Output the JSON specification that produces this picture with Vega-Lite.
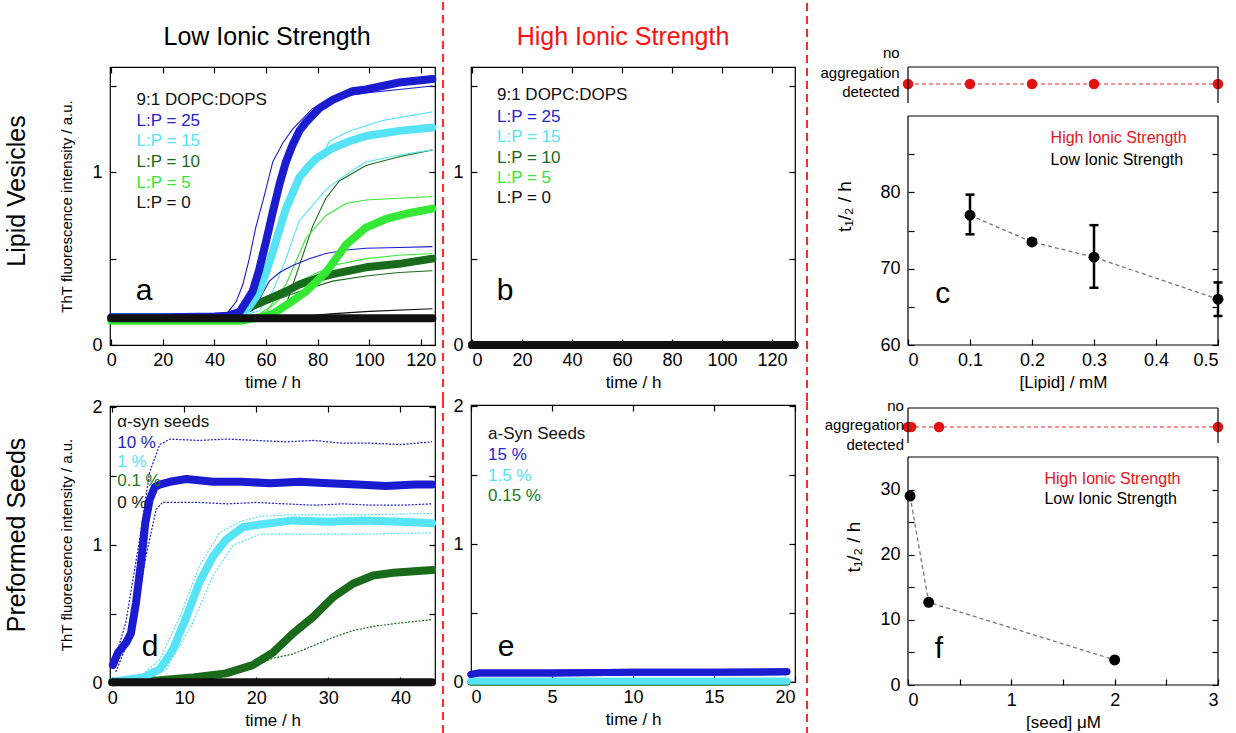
{
"$schema":"https://vega.github.io/schema/vega-lite/v6.json",
"padding":{"left":4,"top":0,"right":0,"bottom":0},
"spacing":-6,
"resolve":{"scale":{"color":"independent"}},
"config":{
 "font":"Liberation Sans",
 "view":{"stroke":"black","strokeWidth":1.2},
 "axis":{"domain":false,"grid":false,"minExtent":0,"tickColor":"black","tickSize":-6,"tickWidth":1.2,"labelFontSize":18,"labelColor":"black","labelFont":"Liberation Sans","titleFont":"Liberation Sans","titleFontWeight":"normal","titleColor":"black","titleFontSize":17,"labelPadding":14},
 "axisX":{"labelPadding":12,"titlePadding":5},
 "axisY":{"titlePadding":17},
 "axisTop":{"labelPadding":0,"minExtent":0},
 "axisRight":{"labelPadding":0,"minExtent":0},
 "text":{"font":"Liberation Sans"}
},
"datasets":{
 "lipidLow":[
  {"t":0,"v":0.15,"s":"10","k":"r1"},{"t":55,"v":0.155,"s":"10","k":"r1"},{"t":62.6,"v":0.18,"s":"10","k":"r1"},{"t":67.7,"v":0.23,"s":"10","k":"r1"},{"t":72.9,"v":0.46,"s":"10","k":"r1"},{"t":78.1,"v":0.69,"s":"10","k":"r1"},{"t":83.2,"v":0.85,"s":"10","k":"r1"},{"t":88.4,"v":0.95,"s":"10","k":"r1"},{"t":98.7,"v":1.04,"s":"10","k":"r1"},{"t":111.6,"v":1.09,"s":"10","k":"r1"},{"t":124.5,"v":1.13,"s":"10","k":"r1"},
  {"t":0,"v":0.15,"s":"10","k":"r2"},{"t":45,"v":0.155,"s":"10","k":"r2"},{"t":54,"v":0.2,"s":"10","k":"r2"},{"t":60,"v":0.24,"s":"10","k":"r2"},{"t":72.9,"v":0.31,"s":"10","k":"r2"},{"t":85.8,"v":0.37,"s":"10","k":"r2"},{"t":98.7,"v":0.4,"s":"10","k":"r2"},{"t":111.6,"v":0.42,"s":"10","k":"r2"},{"t":124.5,"v":0.43,"s":"10","k":"r2"},
  {"t":0,"v":0.14,"s":"5","k":"r1"},{"t":55,"v":0.15,"s":"5","k":"r1"},{"t":60,"v":0.19,"s":"5","k":"r1"},{"t":67.7,"v":0.35,"s":"5","k":"r1"},{"t":75.5,"v":0.62,"s":"5","k":"r1"},{"t":83.2,"v":0.75,"s":"5","k":"r1"},{"t":91,"v":0.82,"s":"5","k":"r1"},{"t":98.7,"v":0.84,"s":"5","k":"r1"},{"t":111.6,"v":0.85,"s":"5","k":"r1"},{"t":124.5,"v":0.86,"s":"5","k":"r1"},
  {"t":0,"v":0.14,"s":"5","k":"r2"},{"t":50,"v":0.15,"s":"5","k":"r2"},{"t":57.4,"v":0.18,"s":"5","k":"r2"},{"t":62.6,"v":0.23,"s":"5","k":"r2"},{"t":72.9,"v":0.37,"s":"5","k":"r2"},{"t":85.8,"v":0.46,"s":"5","k":"r2"},{"t":98.7,"v":0.5,"s":"5","k":"r2"},{"t":111.6,"v":0.52,"s":"5","k":"r2"},{"t":124.5,"v":0.53,"s":"5","k":"r2"},
  {"t":0,"v":0.16,"s":"15","k":"r1"},{"t":48,"v":0.17,"s":"15","k":"r1"},{"t":54.8,"v":0.24,"s":"15","k":"r1"},{"t":57.4,"v":0.3,"s":"15","k":"r1"},{"t":62.6,"v":0.5,"s":"15","k":"r1"},{"t":67.7,"v":0.77,"s":"15","k":"r1"},{"t":72.9,"v":0.95,"s":"15","k":"r1"},{"t":79.4,"v":1.06,"s":"15","k":"r1"},{"t":82,"v":1.1,"s":"15","k":"r1"},{"t":84.5,"v":1.18,"s":"15","k":"r1"},{"t":92.3,"v":1.24,"s":"15","k":"r1"},{"t":105.2,"v":1.3,"s":"15","k":"r1"},{"t":124.5,"v":1.35,"s":"15","k":"r1"},
  {"t":0,"v":0.155,"s":"15","k":"r2"},{"t":50,"v":0.16,"s":"15","k":"r2"},{"t":57.4,"v":0.2,"s":"15","k":"r2"},{"t":62.6,"v":0.31,"s":"15","k":"r2"},{"t":67.7,"v":0.5,"s":"15","k":"r2"},{"t":72.9,"v":0.72,"s":"15","k":"r2"},{"t":78.1,"v":0.81,"s":"15","k":"r2"},{"t":83.2,"v":0.9,"s":"15","k":"r2"},{"t":85.8,"v":0.93,"s":"15","k":"r2"},{"t":92.3,"v":1.0,"s":"15","k":"r2"},{"t":98.7,"v":1.06,"s":"15","k":"r2"},{"t":111.6,"v":1.1,"s":"15","k":"r2"},{"t":124.5,"v":1.13,"s":"15","k":"r2"},
  {"t":0,"v":0.165,"s":"25","k":"r1"},{"t":40,"v":0.17,"s":"25","k":"r1"},{"t":45.2,"v":0.19,"s":"25","k":"r1"},{"t":48.4,"v":0.25,"s":"25","k":"r1"},{"t":51,"v":0.35,"s":"25","k":"r1"},{"t":53.5,"v":0.5,"s":"25","k":"r1"},{"t":56,"v":0.68,"s":"25","k":"r1"},{"t":59.4,"v":0.87,"s":"25","k":"r1"},{"t":62.6,"v":1.06,"s":"25","k":"r1"},{"t":66.5,"v":1.17,"s":"25","k":"r1"},{"t":70.3,"v":1.25,"s":"25","k":"r1"},{"t":78.1,"v":1.37,"s":"25","k":"r1"},{"t":85.8,"v":1.43,"s":"25","k":"r1"},{"t":98.7,"v":1.46,"s":"25","k":"r1"},{"t":111.6,"v":1.48,"s":"25","k":"r1"},{"t":124.5,"v":1.5,"s":"25","k":"r1"},
  {"t":0,"v":0.165,"s":"25","k":"r2"},{"t":48,"v":0.17,"s":"25","k":"r2"},{"t":54.8,"v":0.2,"s":"25","k":"r2"},{"t":58.7,"v":0.3,"s":"25","k":"r2"},{"t":61.3,"v":0.37,"s":"25","k":"r2"},{"t":65.2,"v":0.42,"s":"25","k":"r2"},{"t":70.3,"v":0.46,"s":"25","k":"r2"},{"t":76.8,"v":0.5,"s":"25","k":"r2"},{"t":83.2,"v":0.53,"s":"25","k":"r2"},{"t":91,"v":0.55,"s":"25","k":"r2"},{"t":98.7,"v":0.56,"s":"25","k":"r2"},{"t":111.6,"v":0.565,"s":"25","k":"r2"},{"t":124.5,"v":0.57,"s":"25","k":"r2"},
  {"t":0,"v":0.155,"s":"0","k":"r1"},{"t":70,"v":0.16,"s":"0","k":"r1"},{"t":85,"v":0.18,"s":"0","k":"r1"},{"t":100,"v":0.195,"s":"0","k":"r1"},{"t":124.5,"v":0.21,"s":"0","k":"r1"},
  {"t":0,"v":0.15,"s":"10","k":"m"},{"t":40,"v":0.155,"s":"10","k":"m"},{"t":47,"v":0.17,"s":"10","k":"m"},{"t":52.3,"v":0.21,"s":"10","k":"m"},{"t":60,"v":0.26,"s":"10","k":"m"},{"t":67.7,"v":0.31,"s":"10","k":"m"},{"t":72.9,"v":0.35,"s":"10","k":"m"},{"t":80.6,"v":0.39,"s":"10","k":"m"},{"t":85.8,"v":0.41,"s":"10","k":"m"},{"t":98.7,"v":0.45,"s":"10","k":"m"},{"t":111.6,"v":0.47,"s":"10","k":"m"},{"t":124.5,"v":0.5,"s":"10","k":"m"},
  {"t":0,"v":0.14,"s":"5","k":"m"},{"t":50,"v":0.14,"s":"5","k":"m"},{"t":57.4,"v":0.16,"s":"5","k":"m"},{"t":62.6,"v":0.18,"s":"5","k":"m"},{"t":67.7,"v":0.23,"s":"5","k":"m"},{"t":75.5,"v":0.31,"s":"5","k":"m"},{"t":83.2,"v":0.42,"s":"5","k":"m"},{"t":91,"v":0.58,"s":"5","k":"m"},{"t":98.7,"v":0.68,"s":"5","k":"m"},{"t":106.5,"v":0.73,"s":"5","k":"m"},{"t":114.2,"v":0.76,"s":"5","k":"m"},{"t":124.5,"v":0.79,"s":"5","k":"m"},
  {"t":0,"v":0.16,"s":"15","k":"m"},{"t":45,"v":0.16,"s":"15","k":"m"},{"t":52.3,"v":0.2,"s":"15","k":"m"},{"t":54.8,"v":0.25,"s":"15","k":"m"},{"t":57.4,"v":0.31,"s":"15","k":"m"},{"t":60,"v":0.42,"s":"15","k":"m"},{"t":62.6,"v":0.54,"s":"15","k":"m"},{"t":65.2,"v":0.67,"s":"15","k":"m"},{"t":67.7,"v":0.79,"s":"15","k":"m"},{"t":70.3,"v":0.88,"s":"15","k":"m"},{"t":72.9,"v":0.97,"s":"15","k":"m"},{"t":76.8,"v":1.04,"s":"15","k":"m"},{"t":79.4,"v":1.08,"s":"15","k":"m"},{"t":85.8,"v":1.14,"s":"15","k":"m"},{"t":92.3,"v":1.18,"s":"15","k":"m"},{"t":98.7,"v":1.21,"s":"15","k":"m"},{"t":111.6,"v":1.24,"s":"15","k":"m"},{"t":124.5,"v":1.26,"s":"15","k":"m"},
  {"t":0,"v":0.16,"s":"25","k":"m"},{"t":20,"v":0.16,"s":"25","k":"m"},{"t":40,"v":0.165,"s":"25","k":"m"},{"t":45.2,"v":0.17,"s":"25","k":"m"},{"t":49.7,"v":0.19,"s":"25","k":"m"},{"t":54.8,"v":0.31,"s":"25","k":"m"},{"t":57.4,"v":0.44,"s":"25","k":"m"},{"t":60,"v":0.6,"s":"25","k":"m"},{"t":62.6,"v":0.77,"s":"25","k":"m"},{"t":65.2,"v":0.93,"s":"25","k":"m"},{"t":67.7,"v":1.06,"s":"25","k":"m"},{"t":70.3,"v":1.16,"s":"25","k":"m"},{"t":72.9,"v":1.24,"s":"25","k":"m"},{"t":75.5,"v":1.29,"s":"25","k":"m"},{"t":80.6,"v":1.37,"s":"25","k":"m"},{"t":85.8,"v":1.42,"s":"25","k":"m"},{"t":93.5,"v":1.47,"s":"25","k":"m"},{"t":98.7,"v":1.48,"s":"25","k":"m"},{"t":111.6,"v":1.52,"s":"25","k":"m"},{"t":124.5,"v":1.54,"s":"25","k":"m"},
  {"t":0,"v":0.155,"s":"0","k":"m"},{"t":30,"v":0.155,"s":"0","k":"m"},{"t":60,"v":0.155,"s":"0","k":"m"},{"t":90,"v":0.155,"s":"0","k":"m"},{"t":124.5,"v":0.155,"s":"0","k":"m"}
 ],
 "lipidHigh":[{"t":0,"v":0,"s":"0"},{"t":40,"v":0,"s":"0"},{"t":80,"v":0,"s":"0"},{"t":129,"v":0,"s":"0"}],
 "seedLow":[
  {"t":0,"v":0.005,"s":"0.1","k":"r1"},{"t":11.2,"v":0.04,"s":"0.1","k":"r1"},{"t":15.8,"v":0.07,"s":"0.1","k":"r1"},{"t":19.5,"v":0.12,"s":"0.1","k":"r1"},{"t":22.3,"v":0.18,"s":"0.1","k":"r1"},{"t":25.1,"v":0.21,"s":"0.1","k":"r1"},{"t":27.9,"v":0.27,"s":"0.1","k":"r1"},{"t":30.6,"v":0.33,"s":"0.1","k":"r1"},{"t":33.4,"v":0.38,"s":"0.1","k":"r1"},{"t":36.2,"v":0.41,"s":"0.1","k":"r1"},{"t":39,"v":0.43,"s":"0.1","k":"r1"},{"t":44.4,"v":0.46,"s":"0.1","k":"r1"},
  {"t":0,"v":0.01,"s":"1","k":"r1"},{"t":4,"v":0.05,"s":"1","k":"r1"},{"t":6.6,"v":0.17,"s":"1","k":"r1"},{"t":9.4,"v":0.48,"s":"1","k":"r1"},{"t":12.1,"v":0.85,"s":"1","k":"r1"},{"t":14.9,"v":1.09,"s":"1","k":"r1"},{"t":17.7,"v":1.17,"s":"1","k":"r1"},{"t":20.5,"v":1.21,"s":"1","k":"r1"},{"t":25.1,"v":1.22,"s":"1","k":"r1"},{"t":35,"v":1.22,"s":"1","k":"r1"},{"t":44.4,"v":1.23,"s":"1","k":"r1"},
  {"t":0,"v":0.01,"s":"1","k":"r2"},{"t":5,"v":0.03,"s":"1","k":"r2"},{"t":7.5,"v":0.1,"s":"1","k":"r2"},{"t":11.2,"v":0.44,"s":"1","k":"r2"},{"t":14,"v":0.78,"s":"1","k":"r2"},{"t":16.8,"v":1.0,"s":"1","k":"r2"},{"t":20.5,"v":1.08,"s":"1","k":"r2"},{"t":25.1,"v":1.08,"s":"1","k":"r2"},{"t":35,"v":1.08,"s":"1","k":"r2"},{"t":44.4,"v":1.09,"s":"1","k":"r2"},
  {"t":0.1,"v":0.12,"s":"10","k":"r1"},{"t":1.9,"v":0.44,"s":"10","k":"r1"},{"t":3.8,"v":1.04,"s":"10","k":"r1"},{"t":5.2,"v":1.53,"s":"10","k":"r1"},{"t":6.6,"v":1.73,"s":"10","k":"r1"},{"t":8,"v":1.77,"s":"10","k":"r1"},{"t":12,"v":1.76,"s":"10","k":"r1"},{"t":16,"v":1.77,"s":"10","k":"r1"},{"t":20,"v":1.76,"s":"10","k":"r1"},{"t":24,"v":1.75,"s":"10","k":"r1"},{"t":28,"v":1.76,"s":"10","k":"r1"},{"t":32,"v":1.74,"s":"10","k":"r1"},{"t":36,"v":1.74,"s":"10","k":"r1"},{"t":40,"v":1.73,"s":"10","k":"r1"},{"t":44.4,"v":1.75,"s":"10","k":"r1"},
  {"t":0.5,"v":0.08,"s":"10","k":"r2"},{"t":2.9,"v":0.39,"s":"10","k":"r2"},{"t":4.7,"v":0.92,"s":"10","k":"r2"},{"t":6.1,"v":1.26,"s":"10","k":"r2"},{"t":7,"v":1.31,"s":"10","k":"r2"},{"t":12,"v":1.31,"s":"10","k":"r2"},{"t":16,"v":1.3,"s":"10","k":"r2"},{"t":20,"v":1.31,"s":"10","k":"r2"},{"t":24,"v":1.3,"s":"10","k":"r2"},{"t":28,"v":1.29,"s":"10","k":"r2"},{"t":32,"v":1.3,"s":"10","k":"r2"},{"t":36,"v":1.29,"s":"10","k":"r2"},{"t":40,"v":1.29,"s":"10","k":"r2"},{"t":44.4,"v":1.3,"s":"10","k":"r2"},
  {"t":0,"v":0.005,"s":"0.1","k":"m"},{"t":6.6,"v":0.02,"s":"0.1","k":"m"},{"t":11.2,"v":0.04,"s":"0.1","k":"m"},{"t":15.8,"v":0.07,"s":"0.1","k":"m"},{"t":19.5,"v":0.13,"s":"0.1","k":"m"},{"t":22.3,"v":0.22,"s":"0.1","k":"m"},{"t":25.1,"v":0.36,"s":"0.1","k":"m"},{"t":27.9,"v":0.48,"s":"0.1","k":"m"},{"t":30.6,"v":0.62,"s":"0.1","k":"m"},{"t":33.4,"v":0.72,"s":"0.1","k":"m"},{"t":36.2,"v":0.78,"s":"0.1","k":"m"},{"t":39,"v":0.8,"s":"0.1","k":"m"},{"t":44.4,"v":0.82,"s":"0.1","k":"m"},
  {"t":0,"v":0.01,"s":"1","k":"m"},{"t":4.3,"v":0.04,"s":"1","k":"m"},{"t":6.6,"v":0.1,"s":"1","k":"m"},{"t":8.4,"v":0.24,"s":"1","k":"m"},{"t":10.3,"v":0.48,"s":"1","k":"m"},{"t":12.1,"v":0.73,"s":"1","k":"m"},{"t":14,"v":0.92,"s":"1","k":"m"},{"t":15.8,"v":1.04,"s":"1","k":"m"},{"t":18.1,"v":1.13,"s":"1","k":"m"},{"t":20.5,"v":1.15,"s":"1","k":"m"},{"t":25.1,"v":1.18,"s":"1","k":"m"},{"t":30,"v":1.17,"s":"1","k":"m"},{"t":35,"v":1.18,"s":"1","k":"m"},{"t":40,"v":1.17,"s":"1","k":"m"},{"t":44.4,"v":1.16,"s":"1","k":"m"},
  {"t":0.1,"v":0.13,"s":"10","k":"m"},{"t":0.8,"v":0.22,"s":"10","k":"m"},{"t":1.9,"v":0.29,"s":"10","k":"m"},{"t":2.6,"v":0.36,"s":"10","k":"m"},{"t":3.3,"v":0.58,"s":"10","k":"m"},{"t":4.0,"v":0.87,"s":"10","k":"m"},{"t":4.6,"v":1.16,"s":"10","k":"m"},{"t":5.2,"v":1.33,"s":"10","k":"m"},{"t":5.9,"v":1.42,"s":"10","k":"m"},{"t":6.6,"v":1.44,"s":"10","k":"m"},{"t":8,"v":1.46,"s":"10","k":"m"},{"t":10.3,"v":1.48,"s":"10","k":"m"},{"t":14,"v":1.46,"s":"10","k":"m"},{"t":18,"v":1.46,"s":"10","k":"m"},{"t":22,"v":1.45,"s":"10","k":"m"},{"t":26,"v":1.46,"s":"10","k":"m"},{"t":30,"v":1.45,"s":"10","k":"m"},{"t":34,"v":1.44,"s":"10","k":"m"},{"t":38,"v":1.43,"s":"10","k":"m"},{"t":42,"v":1.44,"s":"10","k":"m"},{"t":44.4,"v":1.44,"s":"10","k":"m"},
  {"t":0,"v":0.005,"s":"0","k":"m"},{"t":15,"v":0.005,"s":"0","k":"m"},{"t":30,"v":0.005,"s":"0","k":"m"},{"t":44.4,"v":0.005,"s":"0","k":"m"}
 ],
 "seedHigh":[
  {"t":0,"v":0.0,"s":"0.15"},{"t":10,"v":0.0,"s":"0.15"},{"t":19.5,"v":0.0,"s":"0.15"},
  {"t":0,"v":0.005,"s":"1.5"},{"t":10,"v":0.005,"s":"1.5"},{"t":19.5,"v":0.005,"s":"1.5"},
  {"t":0,"v":0.055,"s":"15"},{"t":0.5,"v":0.065,"s":"15"},{"t":5,"v":0.065,"s":"15"},{"t":10,"v":0.07,"s":"15"},{"t":15,"v":0.07,"s":"15"},{"t":19.5,"v":0.075,"s":"15"}
 ],
 "lipidT":[{"x":0.1,"t":77,"lo":74.5,"hi":79.7},{"x":0.2,"t":73.5,"lo":73.2,"hi":73.8},{"x":0.3,"t":71.5,"lo":67.5,"hi":75.7},{"x":0.5,"t":66,"lo":63.8,"hi":68.2}],
 "lipidNone":[{"x":0},{"x":0.1},{"x":0.2},{"x":0.3},{"x":0.5}],
 "seedT":[{"x":0.02,"t":29},{"x":0.2,"t":12.7},{"x":2,"t":3.85}],
 "seedNone":[{"x":0},{"x":0.03},{"x":0.3},{"x":3}]
},
"hconcat":[
 {"vconcat":[
   {"width":325,"height":278,
    "data":{"name":"lipidLow"},
    "resolve":{"axis":{"x":"independent","y":"independent"}},
    "layer":[
     {"transform":[{"filter":"datum.k != 'm'"}],
      "mark":{"type":"line","strokeWidth":1.1,"clip":false},
      "encoding":{
       "x":{"field":"t","type":"quantitative","scale":{"domain":[-0.5,125.5],"nice":false,"zero":false},"axis":{"orient":"bottom","values":[0,20,40,60,80,100,120],"title":"time / h"}},
       "y":{"field":"v","type":"quantitative","scale":{"domain":[0,1.61],"nice":false,"zero":false},"axis":{"orient":"left","values":[0,0.5,1,1.5],"labelExpr":"datum.value == 0 ? '0' : (datum.value == 1 ? '1' : '')","title":"ThT fluorescence intensity / a.u.","titleFontSize":15}},
       "color":{"field":"s","type":"nominal","scale":{"domain":["25","15","10","5","0"],"range":["#1b1bd0","#55e3f5","#196b1b","#35e835","#111111"]},"legend":null},
       "detail":{"field":"k","type":"nominal"}}},
     {"transform":[{"filter":"datum.k == 'm'"}],
      "mark":{"type":"line","strokeWidth":8,"strokeCap":"round","strokeJoin":"round","clip":false},
      "encoding":{
       "x":{"field":"t","type":"quantitative","axis":{"orient":"top","values":[0,20,40,60,80,100,120],"labels":false,"title":null,"labelPadding":0}},
       "y":{"field":"v","type":"quantitative","axis":{"orient":"right","values":[0,0.5,1,1.5],"labels":false,"title":null,"labelPadding":0}},
       "color":{"field":"s","type":"nominal","legend":null}}},
     {"data":{"values":[{}]},"mark":{"type":"text","text":"Low Ionic Strength","align":"center","baseline":"alphabetic","fontSize":25,"color":"black"},"encoding":{"x":{"datum":60.4,"type":"quantitative","axis":null},"y":{"datum":1.737,"type":"quantitative","axis":null}}},
     {"data":{"values":[{}]},"mark":{"type":"text","text":"9:1 DOPC:DOPS","align":"left","baseline":"middle","fontSize":17,"color":"#111111"},"encoding":{"x":{"datum":9.8,"type":"quantitative","axis":null},"y":{"datum":1.42,"type":"quantitative","axis":null}}},
     {"data":{"values":[{}]},"mark":{"type":"text","text":"L:P = 25","align":"left","baseline":"middle","fontSize":17,"color":"#2424cc"},"encoding":{"x":{"datum":9.8,"type":"quantitative","axis":null},"y":{"datum":1.30,"type":"quantitative","axis":null}}},
     {"data":{"values":[{}]},"mark":{"type":"text","text":"L:P = 15","align":"left","baseline":"middle","fontSize":17,"color":"#55e3f5"},"encoding":{"x":{"datum":9.8,"type":"quantitative","axis":null},"y":{"datum":1.18,"type":"quantitative","axis":null}}},
     {"data":{"values":[{}]},"mark":{"type":"text","text":"L:P = 10","align":"left","baseline":"middle","fontSize":17,"color":"#196b1b"},"encoding":{"x":{"datum":9.8,"type":"quantitative","axis":null},"y":{"datum":1.06,"type":"quantitative","axis":null}}},
     {"data":{"values":[{}]},"mark":{"type":"text","text":"L:P = 5","align":"left","baseline":"middle","fontSize":17,"color":"#35e835"},"encoding":{"x":{"datum":9.8,"type":"quantitative","axis":null},"y":{"datum":0.94,"type":"quantitative","axis":null}}},
     {"data":{"values":[{}]},"mark":{"type":"text","text":"L:P = 0","align":"left","baseline":"middle","fontSize":17,"color":"#111111"},"encoding":{"x":{"datum":9.8,"type":"quantitative","axis":null},"y":{"datum":0.82,"type":"quantitative","axis":null}}},
     {"data":{"values":[{}]},"mark":{"type":"text","text":"a","align":"center","baseline":"middle","fontSize":30,"color":"black"},"encoding":{"x":{"datum":12.7,"type":"quantitative","axis":null},"y":{"datum":0.31,"type":"quantitative","axis":null}}},
     {"data":{"values":[{}]},"mark":{"type":"text","text":"Lipid Vesicles","align":"center","baseline":"middle","angle":270,"fontSize":25,"color":"black"},"encoding":{"x":{"datum":-36.6,"type":"quantitative","axis":null},"y":{"datum":0.892,"type":"quantitative","axis":null}}},
     {"data":{"values":[{}]},"mark":{"type":"rule","color":"#ff2a2a","strokeWidth":2,"strokeDash":[8,5],"clip":false},"encoding":{"x":{"datum":128.62,"type":"quantitative","axis":null},"y":{"datum":1.986,"type":"quantitative","axis":null},"y2":{"datum":-0.3185}}}
    ]},
   {"width":325,"height":277,
    "data":{"name":"seedLow"},
    "resolve":{"axis":{"x":"independent","y":"independent"}},
    "layer":[
     {"transform":[{"filter":"datum.k != 'm'"}],
      "mark":{"type":"line","strokeWidth":1.2,"strokeDash":[2,1.5],"clip":false},
      "encoding":{
       "x":{"field":"t","type":"quantitative","scale":{"domain":[-0.3,44.8],"nice":false,"zero":false},"axis":{"orient":"bottom","values":[0,10,20,30,40],"title":"time / h"}},
       "y":{"field":"v","type":"quantitative","scale":{"domain":[0,2.01],"nice":false,"zero":false},"axis":{"orient":"left","values":[0,0.5,1,1.5,2],"labelExpr":"datum.value % 1 == 0 ? format(datum.value, 'd') : ''","title":"ThT fluorescence intensity / a.u.","titleFontSize":15}},
       "color":{"field":"s","type":"nominal","scale":{"domain":["10","1","0.1","0"],"range":["#1b1bd0","#55e3f5","#196b1b","#111111"]},"legend":null},
       "detail":{"field":"k","type":"nominal"}}},
     {"transform":[{"filter":"datum.k == 'm'"}],
      "mark":{"type":"line","strokeWidth":8,"strokeCap":"round","strokeJoin":"round","clip":false},
      "encoding":{
       "x":{"field":"t","type":"quantitative","axis":{"orient":"top","values":[0,10,20,30,40],"labels":false,"title":null,"labelPadding":0}},
       "y":{"field":"v","type":"quantitative","axis":{"orient":"right","values":[0,0.5,1,1.5,2],"labels":false,"title":null,"labelPadding":0}},
       "color":{"field":"s","type":"nominal","legend":null}}},
     {"data":{"values":[{}]},"mark":{"type":"text","text":"α-syn seeds","align":"left","baseline":"middle","fontSize":17,"color":"#111111"},"encoding":{"x":{"datum":0.7,"type":"quantitative","axis":null},"y":{"datum":1.896,"type":"quantitative","axis":null}}},
     {"data":{"values":[{}]},"mark":{"type":"text","text":"10 %","align":"left","baseline":"middle","fontSize":17,"color":"#2424cc"},"encoding":{"x":{"datum":0.7,"type":"quantitative","axis":null},"y":{"datum":1.739,"type":"quantitative","axis":null}}},
     {"data":{"values":[{}]},"mark":{"type":"text","text":"1 %","align":"left","baseline":"middle","fontSize":17,"color":"#55e3f5"},"encoding":{"x":{"datum":0.7,"type":"quantitative","axis":null},"y":{"datum":1.606,"type":"quantitative","axis":null}}},
     {"data":{"values":[{}]},"mark":{"type":"text","text":"0.1 %","align":"left","baseline":"middle","fontSize":17,"color":"#237a23"},"encoding":{"x":{"datum":0.7,"type":"quantitative","axis":null},"y":{"datum":1.468,"type":"quantitative","axis":null}}},
     {"data":{"values":[{}]},"mark":{"type":"text","text":"0 %","align":"left","baseline":"middle","fontSize":17,"color":"#111111"},"encoding":{"x":{"datum":0.7,"type":"quantitative","axis":null},"y":{"datum":1.304,"type":"quantitative","axis":null}}},
     {"data":{"values":[{}]},"mark":{"type":"text","text":"d","align":"center","baseline":"middle","fontSize":30,"color":"black"},"encoding":{"x":{"datum":5.25,"type":"quantitative","axis":null},"y":{"datum":0.263,"type":"quantitative","axis":null}}},
     {"data":{"values":[{}]},"mark":{"type":"text","text":"Preformed Seeds","align":"center","baseline":"middle","angle":270,"fontSize":25,"color":"black"},"encoding":{"x":{"datum":-13.2,"type":"quantitative","axis":null},"y":{"datum":1.074,"type":"quantitative","axis":null}}},
     {"data":{"values":[{}]},"mark":{"type":"rule","color":"#ff2a2a","strokeWidth":2,"strokeDash":[8,5],"clip":false},"encoding":{"x":{"datum":45.91,"type":"quantitative","axis":null},"y":{"datum":2.054,"type":"quantitative","axis":null},"y2":{"datum":-0.363}}}
    ]}
  ],"spacing":-5,"resolve":{"scale":{"color":"independent"}}},
 {"vconcat":[
   {"width":324,"height":278,
    "data":{"name":"lipidHigh"},
    "resolve":{"axis":{"x":"independent","y":"independent"}},
    "layer":[
     {"mark":{"type":"line","strokeWidth":8,"strokeCap":"round","color":"#111111","clip":false},
      "encoding":{
       "x":{"field":"t","type":"quantitative","scale":{"domain":[-0.4,129.2],"nice":false,"zero":false},"axis":{"orient":"bottom","values":[0,20,40,60,80,100,120],"title":"time / h"}},
       "y":{"field":"v","type":"quantitative","scale":{"domain":[0,1.61],"nice":false,"zero":false},"axis":{"orient":"left","values":[0,0.5,1,1.5],"labelExpr":"datum.value == 0 ? '0' : (datum.value == 1 ? '1' : '')","title":null}}}},
     {"mark":{"type":"line","strokeWidth":8,"strokeCap":"round","color":"#111111","clip":false},
      "encoding":{
       "x":{"field":"t","type":"quantitative","axis":{"orient":"top","values":[0,20,40,60,80,100,120],"labels":false,"title":null,"labelPadding":0}},
       "y":{"field":"v","type":"quantitative","axis":{"orient":"right","values":[0,0.5,1,1.5],"labels":false,"title":null,"labelPadding":0}}}},
     {"data":{"values":[{}]},"mark":{"type":"text","text":"High Ionic Strength","align":"center","baseline":"alphabetic","fontSize":25,"color":"#ff1010"},"encoding":{"x":{"datum":60.4,"type":"quantitative","axis":null},"y":{"datum":1.737,"type":"quantitative","axis":null}}},
     {"data":{"values":[{}]},"mark":{"type":"text","text":"9:1 DOPC:DOPS","align":"left","baseline":"middle","fontSize":17,"color":"#111111"},"encoding":{"x":{"datum":10,"type":"quantitative","axis":null},"y":{"datum":1.448,"type":"quantitative","axis":null}}},
     {"data":{"values":[{}]},"mark":{"type":"text","text":"L:P = 25","align":"left","baseline":"middle","fontSize":17,"color":"#2424cc"},"encoding":{"x":{"datum":10,"type":"quantitative","axis":null},"y":{"datum":1.322,"type":"quantitative","axis":null}}},
     {"data":{"values":[{}]},"mark":{"type":"text","text":"L:P = 15","align":"left","baseline":"middle","fontSize":17,"color":"#55e3f5"},"encoding":{"x":{"datum":10,"type":"quantitative","axis":null},"y":{"datum":1.206,"type":"quantitative","axis":null}}},
     {"data":{"values":[{}]},"mark":{"type":"text","text":"L:P = 10","align":"left","baseline":"middle","fontSize":17,"color":"#196b1b"},"encoding":{"x":{"datum":10,"type":"quantitative","axis":null},"y":{"datum":1.085,"type":"quantitative","axis":null}}},
     {"data":{"values":[{}]},"mark":{"type":"text","text":"L:P = 5","align":"left","baseline":"middle","fontSize":17,"color":"#35e835"},"encoding":{"x":{"datum":10,"type":"quantitative","axis":null},"y":{"datum":0.966,"type":"quantitative","axis":null}}},
     {"data":{"values":[{}]},"mark":{"type":"text","text":"L:P = 0","align":"left","baseline":"middle","fontSize":17,"color":"#111111"},"encoding":{"x":{"datum":10,"type":"quantitative","axis":null},"y":{"datum":0.85,"type":"quantitative","axis":null}}},
     {"data":{"values":[{}]},"mark":{"type":"text","text":"b","align":"center","baseline":"middle","fontSize":30,"color":"black"},"encoding":{"x":{"datum":13.2,"type":"quantitative","axis":null},"y":{"datum":0.31,"type":"quantitative","axis":null}}},
     {"data":{"values":[{}]},"mark":{"type":"rule","color":"white","opacity":0,"strokeWidth":1,"clip":false},"encoding":{"x":{"datum":-12.8,"type":"quantitative","axis":null},"y":{"datum":1.992,"type":"quantitative","axis":null},"y2":{"datum":-0.3185}}},
     {"data":{"values":[{}]},"mark":{"type":"rule","color":"white","opacity":0,"strokeWidth":1,"clip":false},"encoding":{"x":{"datum":134.8,"type":"quantitative","axis":null},"y":{"datum":1.992,"type":"quantitative","axis":null},"y2":{"datum":-0.3185}}}
    ]},
   {"width":324,"height":277,
    "data":{"name":"seedHigh"},
    "resolve":{"axis":{"x":"independent","y":"independent"}},
    "layer":[
     {"mark":{"type":"line","strokeWidth":7,"strokeCap":"round","clip":false},
      "encoding":{
       "x":{"field":"t","type":"quantitative","scale":{"domain":[0,20],"nice":false,"zero":false},"axis":{"orient":"bottom","values":[0,5,10,15,20],"title":"time / h"}},
       "y":{"field":"v","type":"quantitative","scale":{"domain":[0,2.01],"nice":false,"zero":false},"axis":{"orient":"left","values":[0,0.5,1,1.5,2],"labelExpr":"datum.value % 1 == 0 ? format(datum.value, 'd') : ''","title":null}},
       "color":{"field":"s","type":"nominal","scale":{"domain":["15","1.5","0.15"],"range":["#1b1bd0","#55e3f5","#196b1b"]},"legend":null}}},
     {"mark":{"type":"line","strokeWidth":7,"strokeCap":"round","clip":false},
      "encoding":{
       "x":{"field":"t","type":"quantitative","axis":{"orient":"top","values":[0,5,10,15,20],"labels":false,"title":null,"labelPadding":0}},
       "y":{"field":"v","type":"quantitative","axis":{"orient":"right","values":[0,0.5,1,1.5,2],"labels":false,"title":null,"labelPadding":0}},
       "color":{"field":"s","type":"nominal","legend":null}}},
     {"data":{"values":[{}]},"mark":{"type":"text","text":"a-Syn Seeds","align":"left","baseline":"middle","fontSize":17,"color":"#111111"},"encoding":{"x":{"datum":1.05,"type":"quantitative","axis":null},"y":{"datum":1.80,"type":"quantitative","axis":null}}},
     {"data":{"values":[{}]},"mark":{"type":"text","text":"15 %","align":"left","baseline":"middle","fontSize":17,"color":"#2424cc"},"encoding":{"x":{"datum":1.05,"type":"quantitative","axis":null},"y":{"datum":1.647,"type":"quantitative","axis":null}}},
     {"data":{"values":[{}]},"mark":{"type":"text","text":"1.5 %","align":"left","baseline":"middle","fontSize":17,"color":"#55e3f5"},"encoding":{"x":{"datum":1.05,"type":"quantitative","axis":null},"y":{"datum":1.493,"type":"quantitative","axis":null}}},
     {"data":{"values":[{}]},"mark":{"type":"text","text":"0.15 %","align":"left","baseline":"middle","fontSize":17,"color":"#237a23"},"encoding":{"x":{"datum":1.05,"type":"quantitative","axis":null},"y":{"datum":1.352,"type":"quantitative","axis":null}}},
     {"data":{"values":[{}]},"mark":{"type":"text","text":"e","align":"center","baseline":"middle","fontSize":30,"color":"black"},"encoding":{"x":{"datum":2.16,"type":"quantitative","axis":null},"y":{"datum":0.252,"type":"quantitative","axis":null}}},
     {"data":{"values":[{}]},"mark":{"type":"rule","color":"white","opacity":0,"strokeWidth":1,"clip":false},"encoding":{"x":{"datum":-1.914,"type":"quantitative","axis":null},"y":{"datum":2.068,"type":"quantitative","axis":null},"y2":{"datum":-0.363}}},
     {"data":{"values":[{}]},"mark":{"type":"rule","color":"white","opacity":0,"strokeWidth":1,"clip":false},"encoding":{"x":{"datum":20.864,"type":"quantitative","axis":null},"y":{"datum":2.068,"type":"quantitative","axis":null},"y2":{"datum":-0.363}}}
    ]}
  ],"spacing":-5,"resolve":{"scale":{"color":"independent"}}},
 {"vconcat":[
   {"width":310,"height":278,
    "view":{"stroke":null},
    "data":{"name":"lipidT"},
    "resolve":{"axis":{"x":"independent","y":"independent"}},
    "layer":[
     {"mark":{"type":"line","color":"#777777","strokeDash":[4,3],"strokeWidth":1.3},
      "encoding":{
       "x":{"field":"x","type":"quantitative","scale":{"domain":[0,0.5],"nice":false,"zero":false},"axis":{"orient":"bottom","values":[0,0.1,0.2,0.3,0.4,0.5],"labelExpr":"format(datum.value, '~g')","title":"[Lipid] / mM"}},
       "y":{"field":"t","type":"quantitative","scale":{"domain":[60,96.42],"nice":false,"zero":false},"axis":{"orient":"left","values":[60,65,70,75,80,85],"labelExpr":"datum.value % 10 == 0 ? datum.label : ''","title":"t₁/₂ / h","titleFontSize":19,"titlePadding":25}}}},
     {"mark":{"type":"rule","strokeWidth":2.5,"color":"black"},
      "encoding":{
       "x":{"field":"x","type":"quantitative","axis":null},
       "y":{"field":"lo","type":"quantitative","axis":{"orient":"right","values":[60,65,70,75,80,85],"labels":false,"title":null,"labelPadding":0}},
       "y2":{"field":"hi"}}},
     {"mark":{"type":"tick","orient":"horizontal","size":9,"thickness":2.5,"color":"black","opacity":1},"encoding":{"x":{"field":"x","type":"quantitative","axis":null},"y":{"field":"lo","type":"quantitative","axis":null}}},
     {"mark":{"type":"tick","orient":"horizontal","size":9,"thickness":2.5,"color":"black","opacity":1},"encoding":{"x":{"field":"x","type":"quantitative","axis":null},"y":{"field":"hi","type":"quantitative","axis":null}}},
     {"mark":{"type":"circle","size":120,"color":"black","opacity":1,"clip":false},"encoding":{"x":{"field":"x","type":"quantitative","axis":null},"y":{"field":"t","type":"quantitative","axis":null}}},
     {"data":{"name":"lipidNone"},"mark":{"type":"line","color":"#f07070","strokeDash":[4,3],"strokeWidth":1.5,"clip":false},"encoding":{"x":{"field":"x","type":"quantitative","axis":null},"y":{"datum":94.2,"type":"quantitative","axis":null}}},
     {"data":{"name":"lipidNone"},"mark":{"type":"circle","size":110,"color":"#e31212","opacity":1,"clip":false},"encoding":{"x":{"field":"x","type":"quantitative","axis":null},"y":{"datum":94.2,"type":"quantitative","axis":null}}},
     {"data":{"values":[{}]},"mark":{"type":"rule","color":"black","strokeWidth":1.2},"encoding":{"y":{"datum":60,"type":"quantitative","axis":null}}},
     {"data":{"values":[{}]},"mark":{"type":"rule","color":"black","strokeWidth":1.2},"encoding":{"y":{"datum":90,"type":"quantitative","axis":null}}},
     {"data":{"values":[{}]},"mark":{"type":"rule","color":"black","strokeWidth":1.2},"encoding":{"y":{"datum":96.42,"type":"quantitative","axis":null}}},
     {"data":{"values":[{}]},"mark":{"type":"rule","color":"black","strokeWidth":1.2},"encoding":{"x":{"datum":0,"type":"quantitative","axis":null},"y":{"datum":60,"type":"quantitative","axis":null},"y2":{"datum":90}}},
     {"data":{"values":[{}]},"mark":{"type":"rule","color":"black","strokeWidth":1.2},"encoding":{"x":{"datum":0.5,"type":"quantitative","axis":null},"y":{"datum":60,"type":"quantitative","axis":null},"y2":{"datum":90}}},
     {"data":{"values":[{}]},"mark":{"type":"rule","color":"black","strokeWidth":1.2},"encoding":{"x":{"datum":0,"type":"quantitative","axis":null},"y":{"datum":91.7,"type":"quantitative","axis":null},"y2":{"datum":96.42}}},
     {"data":{"values":[{}]},"mark":{"type":"rule","color":"black","strokeWidth":1.2},"encoding":{"x":{"datum":0.5,"type":"quantitative","axis":null},"y":{"datum":91.7,"type":"quantitative","axis":null},"y2":{"datum":96.42}}},
     {"data":{"values":[{}]},"mark":{"type":"text","text":["no","aggregation","detected"],"align":"right","baseline":"middle","fontSize":15,"lineHeight":19.5,"color":"black"},"encoding":{"x":{"datum":-0.0134,"type":"quantitative","axis":null},"y":{"datum":98.2,"type":"quantitative","axis":null}}},
     {"data":{"values":[{}]},"mark":{"type":"text","text":"High Ionic Strength","align":"left","baseline":"middle","fontSize":16,"color":"#e8141c"},"encoding":{"x":{"datum":0.23,"type":"quantitative","axis":null},"y":{"datum":87.1,"type":"quantitative","axis":null}}},
     {"data":{"values":[{}]},"mark":{"type":"text","text":"Low Ionic Strength","align":"left","baseline":"middle","fontSize":16,"color":"black"},"encoding":{"x":{"datum":0.23,"type":"quantitative","axis":null},"y":{"datum":84.2,"type":"quantitative","axis":null}}},
     {"data":{"values":[{}]},"mark":{"type":"text","text":"c","align":"center","baseline":"middle","fontSize":30,"color":"black"},"encoding":{"x":{"datum":0.056,"type":"quantitative","axis":null},"y":{"datum":66.7,"type":"quantitative","axis":null}}},
     {"data":{"values":[{}]},"mark":{"type":"rule","color":"#ff2a2a","strokeWidth":2,"strokeDash":[8,5],"clip":false},"encoding":{"x":{"datum":-0.1629,"type":"quantitative","axis":null},"y":{"datum":104.81,"type":"quantitative","axis":null},"y2":{"datum":52.66}}}
    ]},
   {"width":310,"height":277,
    "view":{"stroke":null},
    "data":{"name":"seedT"},
    "resolve":{"axis":{"x":"independent","y":"independent"}},
    "layer":[
     {"mark":{"type":"line","color":"#777777","strokeDash":[4,3],"strokeWidth":1.3},
      "encoding":{
       "x":{"field":"x","type":"quantitative","scale":{"domain":[0,3],"nice":false,"zero":false},"axis":{"orient":"bottom","values":[0,0.5,1,1.5,2,2.5,3],"labelExpr":"datum.value % 1 == 0 ? format(datum.value, 'd') : ''","title":"[seed] μM"}},
       "y":{"field":"t","type":"quantitative","scale":{"domain":[0,42.52],"nice":false,"zero":false},"axis":{"orient":"left","values":[0,5,10,15,20,25,30],"labelExpr":"datum.value % 10 == 0 ? format(datum.value, 'd') : ''","title":"t₁/₂ / h","titleFontSize":19,"titlePadding":16}}}},
     {"mark":{"type":"circle","size":120,"color":"black","opacity":1,"clip":false},
      "encoding":{
       "x":{"field":"x","type":"quantitative","axis":null},
       "y":{"field":"t","type":"quantitative","axis":{"orient":"right","values":[0,5,10,15,20,25,30],"labels":false,"title":null,"labelPadding":0}}}},
     {"data":{"name":"seedNone"},"mark":{"type":"line","color":"#f07070","strokeDash":[4,3],"strokeWidth":1.5,"clip":false},"encoding":{"x":{"field":"x","type":"quantitative","axis":null},"y":{"datum":39.61,"type":"quantitative","axis":null}}},
     {"data":{"name":"seedNone"},"mark":{"type":"circle","size":110,"color":"#e31212","opacity":1,"clip":false},"encoding":{"x":{"field":"x","type":"quantitative","axis":null},"y":{"datum":39.61,"type":"quantitative","axis":null}}},
     {"data":{"values":[{}]},"mark":{"type":"rule","color":"black","strokeWidth":1.2},"encoding":{"y":{"datum":0,"type":"quantitative","axis":null}}},
     {"data":{"values":[{}]},"mark":{"type":"rule","color":"black","strokeWidth":1.2},"encoding":{"y":{"datum":35,"type":"quantitative","axis":null}}},
     {"data":{"values":[{}]},"mark":{"type":"rule","color":"black","strokeWidth":1.2},"encoding":{"y":{"datum":42.52,"type":"quantitative","axis":null}}},
     {"data":{"values":[{}]},"mark":{"type":"rule","color":"black","strokeWidth":1.2},"encoding":{"x":{"datum":0,"type":"quantitative","axis":null},"y":{"datum":0,"type":"quantitative","axis":null},"y2":{"datum":35}}},
     {"data":{"values":[{}]},"mark":{"type":"rule","color":"black","strokeWidth":1.2},"encoding":{"x":{"datum":3,"type":"quantitative","axis":null},"y":{"datum":0,"type":"quantitative","axis":null},"y2":{"datum":35}}},
     {"data":{"values":[{}]},"mark":{"type":"rule","color":"black","strokeWidth":1.2},"encoding":{"x":{"datum":0,"type":"quantitative","axis":null},"y":{"datum":37.15,"type":"quantitative","axis":null},"y2":{"datum":42.52}}},
     {"data":{"values":[{}]},"mark":{"type":"rule","color":"black","strokeWidth":1.2},"encoding":{"x":{"datum":3,"type":"quantitative","axis":null},"y":{"datum":37.15,"type":"quantitative","axis":null},"y2":{"datum":42.52}}},
     {"data":{"values":[{}]},"mark":{"type":"text","text":["no","aggregation","detected"],"align":"right","baseline":"middle","fontSize":15,"lineHeight":19.5,"color":"black"},"encoding":{"x":{"datum":-0.039,"type":"quantitative","axis":null},"y":{"datum":42.83,"type":"quantitative","axis":null}}},
     {"data":{"values":[{}]},"mark":{"type":"text","text":"High Ionic Strength","align":"left","baseline":"middle","fontSize":16,"color":"#e8141c"},"encoding":{"x":{"datum":1.32,"type":"quantitative","axis":null},"y":{"datum":31.67,"type":"quantitative","axis":null}}},
     {"data":{"values":[{}]},"mark":{"type":"text","text":"Low Ionic Strength","align":"left","baseline":"middle","fontSize":16,"color":"black"},"encoding":{"x":{"datum":1.32,"type":"quantitative","axis":null},"y":{"datum":28.5,"type":"quantitative","axis":null}}},
     {"data":{"values":[{}]},"mark":{"type":"text","text":"f","align":"center","baseline":"middle","fontSize":30,"color":"black"},"encoding":{"x":{"datum":0.3,"type":"quantitative","axis":null},"y":{"datum":5.6,"type":"quantitative","axis":null}}},
     {"data":{"values":[{}]},"mark":{"type":"rule","color":"#ff2a2a","strokeWidth":2,"strokeDash":[8,5],"clip":false},"encoding":{"x":{"datum":-0.9774,"type":"quantitative","axis":null},"y":{"datum":43.44,"type":"quantitative","axis":null},"y2":{"datum":-7.676}}}
    ]}
  ],"spacing":-5,"resolve":{"scale":{"color":"independent"}}}
]
}
